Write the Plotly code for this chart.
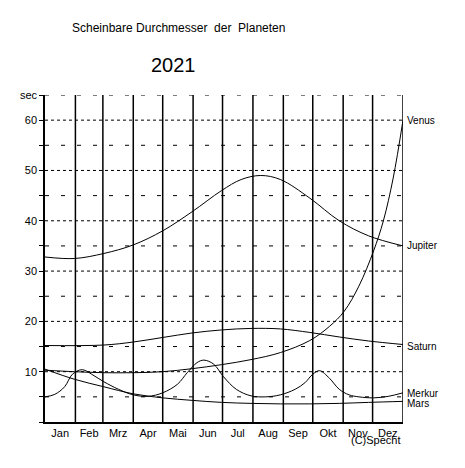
import plotly.graph_objects as go

# day of year -> apparent diameter in arc seconds
venus_d = [0, 30, 60, 90, 120, 150, 180, 210, 240, 270, 290, 305, 320, 335, 345, 355, 365]
venus_v = [10.3, 10.0, 9.8, 9.8, 10.0, 10.6, 11.4, 12.4, 13.8, 16.2, 19.0, 22.0, 27.0, 34.0, 40.0, 48.5, 60.0]
jup_d = [0, 30, 60, 90, 120, 150, 180, 200, 220, 240, 270, 300, 330, 365]
jup_v = [32.8, 32.5, 33.5, 35.2, 38.0, 41.8, 46.0, 48.2, 49.0, 48.2, 44.5, 40.0, 37.0, 35.0]
sat_d = [0, 60, 90, 120, 150, 180, 210, 240, 270, 300, 330, 365]
sat_v = [15.2, 15.3, 15.9, 16.8, 17.7, 18.3, 18.6, 18.5, 17.8, 16.9, 16.1, 15.4]
mer_d = [0, 10, 20, 28, 38, 50, 60, 75, 90, 105, 120, 135, 145, 155, 162, 172, 182, 195, 210, 225, 240, 255, 265, 273, 280, 290, 300, 310, 320, 335, 350, 365]
mer_v = [5.0, 5.5, 7.0, 9.5, 10.4, 9.2, 8.0, 6.5, 5.4, 5.1, 5.8, 7.5, 9.8, 11.8, 12.3, 11.5, 9.0, 6.5, 5.2, 5.0, 5.4, 6.5, 7.8, 9.5, 10.2, 8.7, 6.5, 5.4, 5.0, 4.8, 5.1, 5.8]
mars_d = [0, 30, 60, 90, 120, 150, 180, 210, 240, 270, 300, 330, 365]
mars_v = [10.5, 8.5, 7.0, 5.6, 4.8, 4.3, 3.9, 3.7, 3.6, 3.6, 3.7, 3.9, 4.1]

planets = [("Venus", venus_d, venus_v, 60), ("Jupiter", jup_d, jup_v, 35),
           ("Saturn", sat_d, sat_v, 15), ("Merkur", mer_d, mer_v, 5.6), ("Mars", mars_d, mars_v, 3.6)]

months = ["Jan", "Feb", "Mrz", "Apr", "Mai", "Jun", "Jul", "Aug", "Sep", "Okt", "Nov", "Dez"]
month_start = [0, 31, 59, 90, 120, 151, 181, 212, 243, 273, 304, 334, 365]

fig = go.Figure()
for name, d, v, ly in planets:
    fig.add_trace(go.Scatter(x=d, y=v, mode="lines", line=dict(color="black", width=1, shape="spline"),
                             showlegend=False))
    fig.add_annotation(x=1.0, xref="paper", y=ly, text=name, showarrow=False, xanchor="left",
                       xshift=2, font=dict(size=10))

shapes = []
for m in month_start[1:-1]:
    shapes.append(dict(type="line", x0=m, x1=m, y0=0, y1=65, line=dict(color="black", width=1.5), layer="below"))
for y in range(5, 66, 5):
    dash = "3px,3px" if y % 10 == 0 else "4px,12px"
    shapes.append(dict(type="line", x0=0, x1=365, y0=y, y1=y, line=dict(color="black", width=1, dash=dash), layer="below"))
shapes.append(dict(type="line", x0=365, x1=365, y0=0, y1=65, line=dict(color="black", width=1.5)))

mid = [(month_start[i] + month_start[i + 1]) / 2 for i in range(12)]
fig.update_layout(
    width=465, height=468, margin=dict(l=31, r=70, t=87, b=54),
    plot_bgcolor="white", paper_bgcolor="white",
    font=dict(family="Liberation Sans, Arial", color="black", size=11),
    shapes=shapes,
    xaxis=dict(range=[0, 365], tickvals=mid, ticktext=months, showgrid=False, zeroline=False,
               showline=True, linecolor="black", linewidth=1.5, ticks="", tickfont=dict(size=11)),
    yaxis=dict(range=[0, 65], tickvals=list(range(0, 66, 5)),
               ticktext=["", "", "10", "", "20", "", "30", "", "40", "", "50", "", "60", "sec"],
               showgrid=False, zeroline=False, showline=True, linecolor="black", linewidth=1.5,
               ticks="outside", ticklen=4, tickcolor="black", tickfont=dict(size=11)),
)
fig.add_annotation(xref="paper", yref="paper", x=0.374, y=1.232, text="Scheinbare Durchmesser  der  Planeten",
                   showarrow=False, font=dict(size=12))
fig.add_annotation(xref="paper", yref="paper", x=0.36, y=1.131, text="2021", showarrow=False,
                   font=dict(size=20))
fig.add_annotation(xref="paper", yref="paper", x=1.0, y=-0.08, text="(C)Specht", showarrow=False,
                   xanchor="right", font=dict(size=11))
fig.write_html("out.html")
